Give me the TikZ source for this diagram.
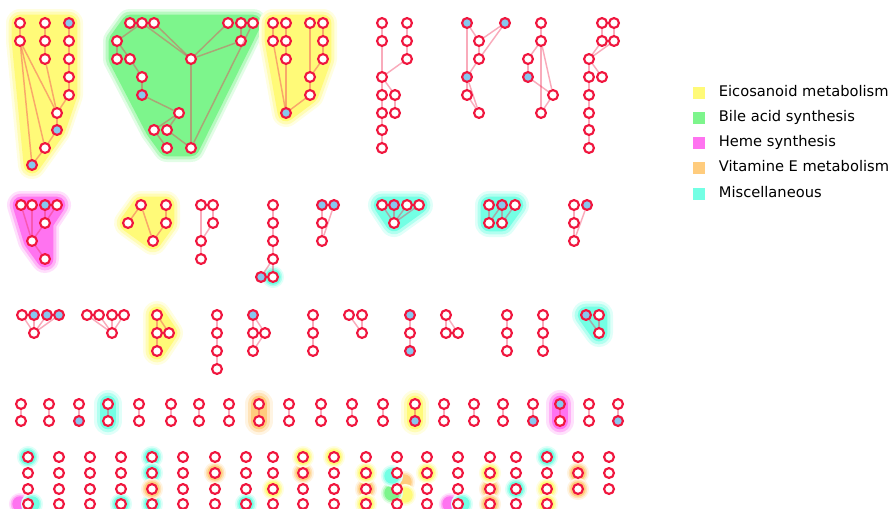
\documentclass[tikz,border=0pt]{standalone}
\usepackage{fontspec}
\setmainfont{DejaVu Sans}
\usetikzlibrary{positioning,backgrounds}

\definecolor{vred}{RGB}{240,22,62}
\colorlet{nw}{white}
\definecolor{nb}{RGB}{135,200,238}
\definecolor{ecol}{RGB}{240,45,85}
\definecolor{eico}{RGB}{255,250,120}
\definecolor{bile}{RGB}{125,245,140}
\definecolor{heme}{RGB}{255,115,240}
\definecolor{vite}{RGB}{255,204,125}
\definecolor{misc}{RGB}{115,255,228}

\newcommand{\hull}[2]{%
  \filldraw[#1!22, line width=21pt, line join=round, line cap=round] #2 -- cycle;
  \filldraw[#1!55, line width=17pt, line join=round, line cap=round] #2 -- cycle;
  \filldraw[#1, line width=12.5pt, line join=round, line cap=round] #2 -- cycle;}
\newcommand{\glow}[2]{%
  \fill[#1!22] #2 circle (8.3pt);
  \fill[#1!55] #2 circle (7pt);
  \fill[#1] #2 circle (5.8pt);}

\begin{document}
\begin{tikzpicture}[x=0.75pt, y=-0.75pt,
  vtx/.style={circle, draw=vred, line width=1.6pt, minimum size=7.4pt, inner sep=0pt},
  link/.style={draw=ecol, draw opacity=0.4, line width=1.1pt},
  swatch/.style={minimum size=9pt, inner sep=0pt},
  legtext/.style={inner sep=0pt, text height=0.75em, text depth=0.2em, font=\fontsize{11}{13}\selectfont}]
  \useasboundingbox (0,0) rectangle (891,508);

  % top row of pathways
  \foreach \nm/\x/\y/\fl in {a1/20/23/nw, a2/45/23/nw, a3/69/23/nb, a4/20/41/nw, a5/45/41/nw,
      a6/69/41/nw, a7/45/59/nw, a8/69/59/nw, a9/69/77/nw, a10/69/95/nw, a11/57/113/nw,
      a12/57/130/nb, a13/45/148/nw, a14/32/165/nb,
      b1/130/23/nw, b2/142/23/nw, b3/154/23/nw, b4/228/23/nw, b5/241/23/nw, b6/253/23/nw,
      b7/117/41/nw, b8/241/41/nw, b9/117/59/nw, b10/130/59/nw, b11/191/59/nw, b12/142/77/nw,
      b13/142/95/nb, b14/179/113/nw, b15/154/130/nw, b16/167/130/nw, b17/167/148/nw, b18/191/148/nw,
      c1/273/23/nw, c2/286/23/nw, c3/310/23/nw, c4/323/23/nw, c5/273/41/nw, c6/286/41/nw,
      c7/323/41/nw, c8/286/59/nw, c9/323/59/nw, c10/310/77/nw, c11/310/95/nw, c12/286/113/nb,
      d1/382/23/nw, d2/407/23/nw, d3/382/41/nw, d4/407/41/nw, d5/407/59/nw, d6/382/77/nw,
      d7/382/95/nw, d8/395/95/nw, d9/382/113/nw, d10/395/113/nw, d11/382/130/nw, d12/382/148/nw,
      e1/467/23/nb, e2/505/23/nb, e3/479/41/nw, e4/479/59/nw, e5/467/77/nb, e6/467/95/nw, e7/479/113/nw,
      f1/541/23/nw, f2/541/41/nw, f3/528/59/nw, f4/528/77/nb, f5/553/95/nw, f6/541/113/nw,
      g1/602/23/nw, g2/614/23/nw, g3/602/41/nw, g4/614/41/nw, g5/589/59/nw, g6/589/77/nw,
      g7/602/77/nw, g8/589/95/nw, g9/589/113/nw, g10/589/130/nw, g11/589/148/nw}
    {\node[vtx, fill=\fl] (\nm) at (\x,\y) {};}
  \foreach \u/\v in {a1/a4, a2/a5, a5/a7, a7/a11, a3/a6, a6/a8, a8/a9, a9/a10, a10/a11, a11/a12,
      a12/a13, a13/a14, a4/a14, a4/a13, a4/a11,
      b7/b2, b2/b11, b3/b11, b4/b11, b8/b11, b5/b8, b6/b18, b11/b18, b7/b9, b7/b10, b10/b12,
      b12/b13, b13/b14, b14/b15, b14/b16, b15/b17, b16/b18,
      c1/c5, c5/c12, c2/c6, c6/c8, c8/c12, c3/c10, c4/c7, c7/c9, c9/c10, c10/c11, c11/c12,
      d1/d3, d3/d6, d2/d4, d4/d5, d5/d6, d6/d7, d6/d8, d7/d9, d8/d10, d9/d11, d11/d12,
      e1/e5, e1/e3, e2/e3, e2/e4, e3/e4, e4/e5, e5/e6, e6/e7, e5/e7,
      f1/f2, f2/f3, f2/f6, f2/f5, f3/f4, f4/f5, f5/f6,
      g1/g3, g2/g4, g3/g5, g4/g5, g5/g6, g5/g7, g6/g8, g8/g9, g9/g10, g10/g11}
    {\draw[link] (\u) -- (\v);}

  % second and third rows
  \foreach \nm/\x/\y/\fl in {h1/21/205/nw, h2/32/205/nw, h3/45/205/nb, h4/57/205/nw, h5/45/223/nw,
      h6/32/241/nw, h7/45/259/nw,
      i1/141/205/nw, i2/166/205/nw, i3/128/223/nw, i4/166/223/nw, i5/153/241/nw,
      j1/201/205/nw, j2/213/205/nw, j3/213/223/nw, j4/201/241/nw, j5/201/259/nw,
      k1/273/205/nw, k2/273/223/nw, k3/273/241/nw, k4/273/259/nw, k5/261/277/nb, k6/273/277/nw,
      l1/322/205/nb, l2/334/205/nb, l3/322/223/nw, l4/322/241/nw,
      m1/382/205/nw, m2/394/205/nb, m3/407/205/nw, m4/419/205/nw, m5/394/223/nw,
      n1/489/205/nw, n2/502/205/nb, n3/515/205/nw, n4/489/223/nw, n5/502/223/nw,
      o1/574/205/nw, o2/587/205/nb, o3/574/223/nw, o4/574/241/nw,
      p1/22/315/nw, p2/34/315/nb, p3/47/315/nb, p4/59/315/nb, p5/34/333/nw,
      q1/87/315/nw, q2/99/315/nw, q3/112/315/nw, q4/124/315/nw, q5/112/333/nw,
      r1/157/315/nw, r2/157/333/nw, r3/169/333/nw, r4/157/351/nw,
      s1/217/315/nw, s2/217/333/nw, s3/217/351/nw, s4/217/369/nw,
      t1/253/315/nb, t2/253/333/nw, t3/265/333/nw, t4/253/351/nw,
      u1/313/315/nw, u2/313/333/nw, u3/313/351/nw,
      v1/349/315/nw, v2/362/315/nw, v3/362/333/nw,
      w1/410/315/nb, w2/410/333/nw, w3/410/351/nb,
      x1/446/315/nw, x2/446/333/nw, x3/458/333/nw,
      y1/507/315/nw, y2/507/333/nw, y3/507/351/nw,
      z1/543/315/nw, z2/543/333/nw, z3/543/351/nw,
      aa1/586/315/nb, aa2/599/315/nw, aa3/599/333/nw}
    {\node[vtx, fill=\fl] (\nm) at (\x,\y) {};}
  \foreach \u/\v in {h1/h6, h2/h6, h3/h5, h4/h5, h5/h6, h6/h7,
      i1/i3, i1/i5, i2/i4, i4/i5, j1/j4, j2/j3, j3/j4, j4/j5,
      k1/k2, k2/k3, k3/k4, k4/k5, k4/k6, l1/l3, l3/l4, l2/l4,
      m1/m5, m2/m5, m3/m5, m4/m5, n1/n4, n2/n4, n2/n5, n3/n5, o1/o3, o3/o4, o2/o4,
      p1/p5, p2/p5, p3/p5, p4/p5, q1/q5, q2/q5, q3/q5, q4/q5, r1/r2, r1/r3, r2/r4,
      s1/s2, s2/s3, s3/s4, t1/t2, t1/t3, t2/t4, t3/t4, u1/u2, u2/u3, v1/v3, v2/v3,
      w1/w2, w2/w3, x1/x2, x1/x3, y1/y2, y2/y3, z1/z2, z2/z3, aa1/aa3, aa2/aa3}
    {\draw[link] (\u) -- (\v);}

  % pairs
  \foreach \x/\ft/\fb [count=\i] in {21/nw/nw, 49/nw/nw, 79/nw/nb, 108/nw/nw, 139/nw/nw, 171/nw/nw,
      199/nw/nw, 229/nw/nw, 259/nw/nw, 289/nw/nw, 321/nw/nw, 352/nw/nw, 383/nw/nw, 415/nw/nb,
      444/nw/nw, 474/nw/nw, 503/nw/nw, 533/nw/nb, 560/nb/nw, 589/nw/nw, 618/nw/nb} {
    \node[vtx, fill=\ft] (up\i) at (\x,404) {};
    \node[vtx, fill=\fb] (lo\i) at (\x,421) {};
    \draw[link] (up\i) -- (lo\i);
  }

  % single metabolites
  \foreach \x [count=\i] in {28,59,90,121,152,183,215,246,273,303,334,366,397,427,458,490,516,547} {
    \foreach \y [count=\j] in {457,473,489,504} {
      \node[vtx, fill=white] (sg\i-\j) at (\x,\y) {};
    }
  }
  \foreach \x [count=\i from 19] in {578,609} {
    \foreach \y [count=\j] in {457,473,489} {
      \node[vtx, fill=white] (sg\i-\j) at (\x,\y) {};
    }
  }

  % legend
  \foreach \k/\c/\txt/\y in {1/eico/Eicosanoid metabolism/93, 2/bile/Bile acid synthesis/118,
      3/heme/Heme synthesis/143, 4/vite/Vitamine E metabolism/168, 5/misc/Miscellaneous/194} {
    \node[swatch, fill=\c] (key\k) at (699,\y) {};
    \node[legtext, right=10pt of key\k] (lab\k) {\txt};
  }

  \begin{pgfonlayer}{background}
    \hull{eico}{(a1.center) -- (a3.center) -- (a10.center) -- (a12.center) -- (a14.center) -- (a4.center)}
    \hull{bile}{(b7.center) -- (b1.center) -- (b6.center) -- (b18.center) -- (b17.center) -- (b15.center) -- (b9.center)}
    \hull{eico}{(c1.center) -- (c4.center) -- (c9.center) -- (c11.center) -- (c12.center) -- (c5.center)}
    \hull{heme}{(h1.center) -- (h4.center) -- (h5.center) -- (h7.center) -- (h6.center)}
    \hull{eico}{(i1.center) -- (i2.center) -- (i4.center) -- (i5.center) -- (i3.center)}
    \hull{misc}{(m1.center) -- (m4.center) -- (m5.center)}
    \hull{misc}{(n1.center) -- (n3.center) -- (n5.center) -- (n4.center)}
    \hull{eico}{(r1.center) -- (r3.center) -- (r4.center)}
    \hull{misc}{(aa1.center) -- (aa2.center) -- (aa3.center)}
    \hull{misc}{(up4.center) -- (lo4.center)}
    \hull{vite}{(up9.center) -- (lo9.center)}
    \hull{eico}{(up14.center) -- (lo14.center)}
    \hull{heme}{(up19.center) -- (lo19.center)}
    \glow{misc}{(k6.center)}
    \glow{heme}{([xshift=-6pt]sg1-4.center)}
    \glow{heme}{([xshift=-6pt]sg15-4.center)}
    \foreach \g in {sg1-1, sg4-4, sg5-1, sg5-2, sg5-4, sg8-4, sg17-3, sg18-1} {
      \glow{misc}{(\g.center)}
    }
    \glow{misc}{([xshift=3pt]sg1-4.center)}
    \glow{misc}{([xshift=3pt]sg15-4.center)}
    \foreach \g in {sg5-3, sg7-2, sg10-2, sg12-3, sg16-3, sg16-4, sg19-2, sg19-3} {
      \glow{vite}{(\g.center)}
    }
    \foreach \g in {sg9-3, sg10-1, sg11-1, sg12-2, sg12-4, sg14-2, sg16-2, sg18-3, sg18-4} {
      \glow{eico}{(\g.center)}
    }
    \glow{vite}{([shift={(7,9)}]sg13-2.center)}
    \glow{eico}{([shift={(8,6)}]sg13-3.center)}
    \glow{bile}{([shift={(-5,4)}]sg13-3.center)}
    \glow{misc}{([shift={(-5,3)}]sg13-2.center)}
  \end{pgfonlayer}
\end{tikzpicture}
\end{document}
